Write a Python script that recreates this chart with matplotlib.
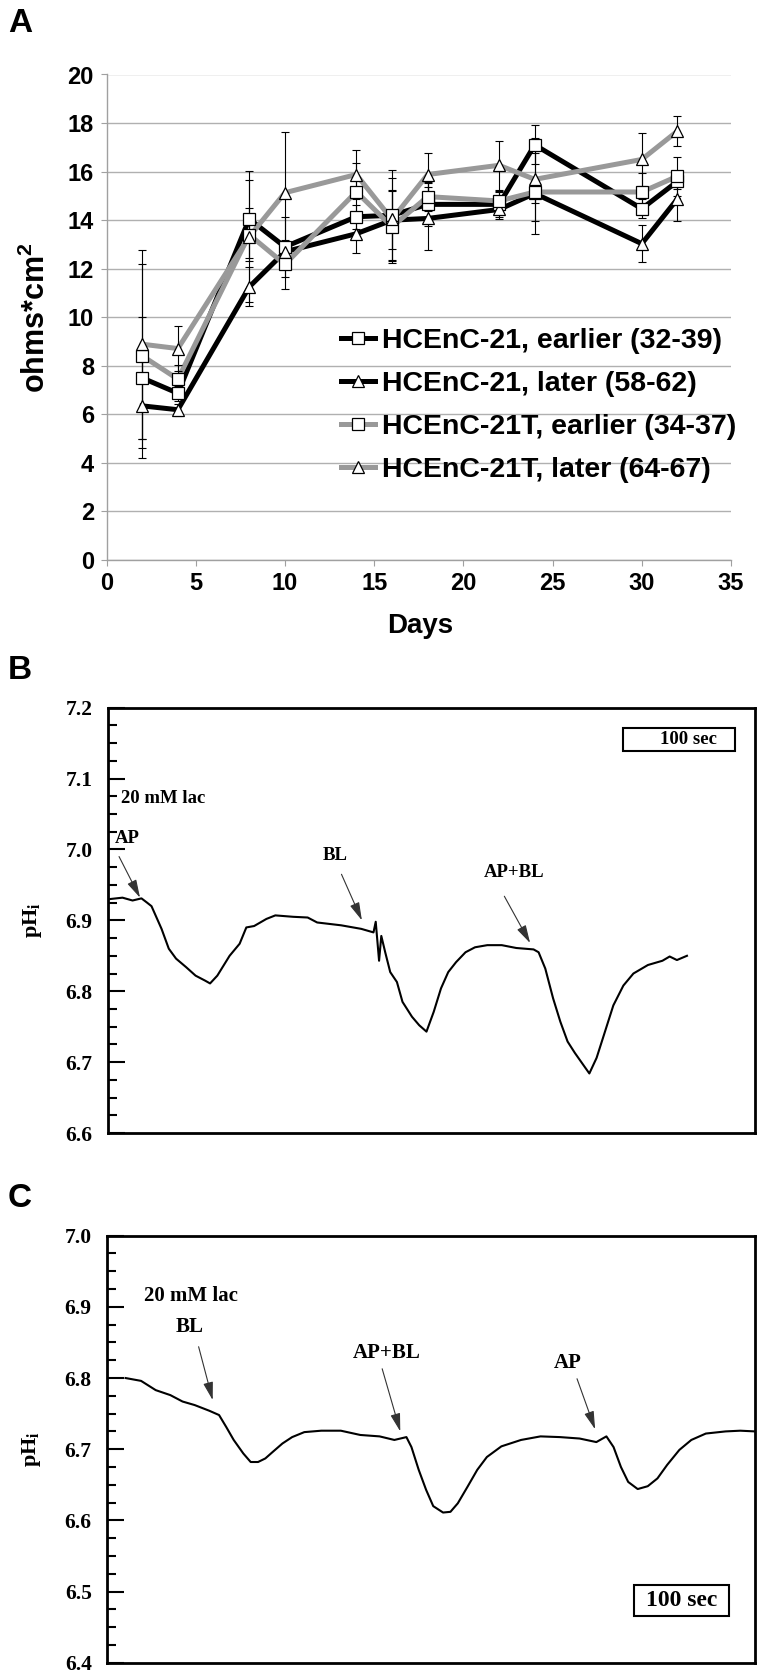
import numpy as np
import matplotlib.pyplot as plt
from matplotlib.lines import Line2D
from matplotlib.patches import Rectangle

plt.rcParams['font.family'] = ['Liberation Sans', 'DejaVu Sans']
plt.rcParams['mathtext.fontset'] = 'custom'
plt.rcParams['mathtext.sf'] = 'Liberation Sans:bold'
plt.rcParams['mathtext.bf'] = 'Liberation Serif:bold'
SERIF = ['Liberation Serif', 'DejaVu Serif']

# ---- panel A: resistance over days ----
days = [2, 4, 8, 10, 14, 16, 18, 22, 24, 30, 32]
labels_a = ['HCEnC-21, earlier (32-39)', 'HCEnC-21, later (58-62)',
            'HCEnC-21T, earlier (34-37)', 'HCEnC-21T, later (64-67)']
early21 = [7.5, 6.87, 14.05, 12.9, 14.14, 14.2, 14.65, 14.65, 17.1, 14.47, 15.6]
early21_err = [2.53, 0.3, 1.6, 1.25, 0.5, 1.85, 0.9, 0.5, 0.8, 0.4, 0.3]
late21 = [6.35, 6.19, 11.25, 12.7, 13.44, 14.0, 14.07, 14.44, 15.1, 13.03, 14.88]
late21_err = [2.16, 0.25, 0.8, 0.4, 0.8, 1.2, 1.3, 0.4, 1.65, 0.75, 0.9]
early21t = [8.41, 7.45, 13.4, 12.18, 15.17, 13.73, 14.97, 14.79, 15.16, 15.16, 15.81]
early21t_err = [3.8, 0.6, 1.1, 1.0, 1.2, 1.5, 0.6, 0.4, 0.45, 0.8, 0.8]
late21t = [8.89, 8.71, 13.32, 15.13, 15.88, 14.03, 15.88, 16.26, 15.68, 16.5, 17.67]
late21t_err = [3.9, 0.93, 2.7, 2.5, 1.0, 1.7, 0.9, 1.0, 1.7, 1.1, 0.6]

# ---- panel B: pHi trace (time in s) ----
b_t = [1.5, 13, 22, 30, 35, 39, 48, 54.5, 61, 70, 78.5, 87, 91.5, 98, 109, 118, 124, 131,
       142, 150, 166, 179, 187.5, 209, 227, 238, 240, 243, 245, 248.5, 253, 259, 264,
       272.5, 279, 285.5, 292, 298.5, 305, 312, 320.5, 329, 340, 353, 366, 381.5, 386,
       392, 399, 405.5, 412, 418.5, 427, 431.5, 438, 444.5, 453, 462, 471, 484, 497,
       503.5, 510, 519]
b_ph = [6.930, 6.932, 6.928, 6.931, 6.925, 6.92, 6.888, 6.86, 6.846, 6.834, 6.822, 6.815,
        6.811, 6.822, 6.85, 6.867, 6.89, 6.892, 6.902, 6.907, 6.905, 6.904, 6.897, 6.893,
        6.888, 6.883, 6.898, 6.843, 6.878, 6.855, 6.827, 6.813, 6.785, 6.764, 6.752,
        6.743, 6.771, 6.804, 6.827, 6.841, 6.855, 6.862, 6.865, 6.865, 6.861, 6.859,
        6.855, 6.832, 6.79, 6.757, 6.729, 6.713, 6.694, 6.684, 6.706, 6.738, 6.78,
        6.808, 6.825, 6.837, 6.843, 6.849, 6.844, 6.85]

# ---- panel C: pHi trace (time in s) ----
c_t = [16.6, 30.5, 43.6, 56.7, 67.6, 78.5, 91.6, 100.3, 106.8, 113.4, 122, 128.6, 135.2,
       141.7, 148.2, 157, 165.7, 176.6, 191.8, 209.3, 226.7, 244, 257.2, 268, 272.5, 279,
       285.6, 292, 300.8, 307.4, 314, 322.6, 331.4, 340, 353, 370.6, 388, 405.5, 423,
       438, 447, 453.4, 460, 466.5, 475, 484, 492.7, 501.4, 512.3, 523, 536, 553.7,
       566.8, 580]
c_ph = [6.80, 6.796, 6.783, 6.776, 6.767, 6.762, 6.754, 6.748, 6.731, 6.713, 6.694, 6.682,
        6.682, 6.687, 6.696, 6.708, 6.717, 6.724, 6.726, 6.726, 6.720, 6.718, 6.713,
        6.717, 6.703, 6.671, 6.643, 6.620, 6.611, 6.612, 6.624, 6.647, 6.671, 6.689,
        6.704, 6.713, 6.718, 6.717, 6.715, 6.710, 6.718, 6.703, 6.675, 6.654, 6.644,
        6.648, 6.659, 6.678, 6.699, 6.713, 6.722, 6.725, 6.726, 6.725]

# annotations: text, text pos, alignment, arrow start, arrow tip
b_notes = [('AP', (6.3, 7.016), 'left', (9.9, 6.990), (28.7, 6.932)),
           ('BL', (204, 6.991), 'center', (209.3, 6.965), (227.6, 6.900)),
           ('AP+BL', (364, 6.968), 'center', (355.3, 6.934), (378.4, 6.868))]
c_notes = [('BL', (73.7, 6.872), 'center', (82, 6.844), (94.6, 6.769)),
           ('AP+BL', (250.7, 6.835), 'center', (246.3, 6.813), (262.5, 6.725)),
           ('AP', (412, 6.821), 'center', (420.7, 6.799), (436.9, 6.728))]

fig = plt.figure(figsize=(7.65, 16.8), dpi=100)
W, H = 765.0, 1680.0

# ================= A =================
axA = fig.add_axes([106.5 / W, 1 - 560 / H, 624.5 / W, 485.5 / H])
gray = '#999999'
series = [(early21, early21_err, 'black', 's'),
          (late21, late21_err, 'black', '^'),
          (early21t, early21t_err, gray, 's'),
          (late21t, late21t_err, gray, '^')]
handles = []
for vals, err, col, mk in series:
    axA.errorbar(days, vals, yerr=err, fmt='none', ecolor='black', elinewidth=0.8,
                 capsize=3, capthick=0.8, zorder=4)
    axA.plot(days, vals, color=col, lw=3.6, zorder=3, solid_joinstyle='miter')
    axA.plot(days, vals, ls='none', marker=mk, ms=9, mfc='white', mec='black',
             mew=0.9, zorder=5)
    handles.append(Line2D([], [], color=col, lw=3.6, marker=mk, ms=9, mfc='white',
                          mec='black', mew=0.9))

axA.set_xlim(0, 35)
axA.set_ylim(0, 20)
axA.set_xticks(range(0, 36, 5))
axA.set_yticks(range(0, 21, 2))
axA.yaxis.grid(True, color='#b0b0b0', lw=1.0)
axA.set_axisbelow(True)
for s in ['top', 'right']:
    axA.spines[s].set_visible(False)
for s in ['left', 'bottom']:
    axA.spines[s].set_color('#a0a0a0')
    axA.spines[s].set_linewidth(1.0)
axA.tick_params(colors='#a0a0a0', length=4, pad=5, labelsize=17, labelcolor='black')
for t in axA.get_xticklabels() + axA.get_yticklabels():
    t.set_fontweight('bold')
axA.set_xlabel('Days', fontsize=20, fontweight='bold')
axA.xaxis.set_label_coords(0.502, -0.109)
axA.set_ylabel(r'ohms*cm$^{\mathsf{2}}$', fontsize=22, fontweight='bold')
axA.yaxis.set_label_coords(-0.087, 0.5)
axA.legend(handles, labels_a, loc='upper left', bbox_to_anchor=(0.375, 0.478),
           frameon=False, prop=dict(weight='bold', size=20.5), handlelength=1.2,
           handletextpad=0.25, labelspacing=0.6, borderpad=0, borderaxespad=0)


def trace_panel(rect, t, ph, ylo, yhi, notes, lac_pos, box, box_txt, fs, box_fs):
    ax = fig.add_axes(rect)
    ax.plot(t, ph, color='black', lw=1.5)
    ax.set_xlim(0, 580)
    ax.set_ylim(ylo, yhi)
    major = np.round(np.arange(ylo, yhi + 0.001, 0.1), 1)
    ax.set_yticks(major, labels=['%.1f' % v for v in major], fontfamily=SERIF,
                  fontweight='bold', fontsize=15.5)
    ax.set_yticks(np.arange(ylo, yhi + 0.001, 0.025), minor=True)
    ax.tick_params(axis='y', which='major', direction='in', length=12.5, width=1.5, pad=11)
    ax.tick_params(axis='y', which='minor', direction='in', length=6.5, width=1.5)
    ax.set_xticks([])
    for s in ax.spines.values():
        s.set_linewidth(2)
    ax.set_ylabel(r'pH$_\mathbf{i}$', fontfamily=SERIF, fontweight='bold', fontsize=16)
    ax.yaxis.set_label_coords(-0.099, 0.5)
    ax.text(lac_pos[0], lac_pos[1], '20 mM lac', fontfamily=SERIF, fontweight='bold',
            fontsize=fs, ha='left', va='center')
    for txt, tp, ha, a0, a1 in notes:
        ax.text(tp[0], tp[1], txt, fontfamily=SERIF, fontweight='bold', fontsize=fs,
                ha=ha, va='center')
        ax.annotate('', xy=a1, xytext=a0,
                    arrowprops=dict(arrowstyle='-|>,head_length=0.55,head_width=0.15',
                                    color='0.2', lw=0.8, shrinkA=0, shrinkB=0,
                                    mutation_scale=20))
    x0, y0, x1, y1 = box
    ax.add_patch(Rectangle((x0, y0), x1 - x0, y1 - y0, fill=False, lw=1.5, color='black'))
    ax.text(box_txt, (y0 + y1) / 2, '100 sec', fontfamily=SERIF, fontweight='bold',
            fontsize=box_fs, ha='center', va='center')
    return ax


# ================= B =================
trace_panel([108 / W, 1 - 1133 / H, 647 / W, 425.3 / H], b_t, b_ph, 6.6, 7.2, b_notes,
            (12, 7.072), (461.7, 7.139, 562, 7.172), 520, 13.5, 13.5)
# ================= C =================
trace_panel([107 / W, 1 - 1662.7 / H, 648 / W, 427 / H], c_t, c_ph, 6.4, 7.0, c_notes,
            (32.7, 6.915), (471.7, 6.4655, 556.7, 6.509), 514, 15, 17)

# panel letters
for letter, ytop in [('A', 8), ('B', 655), ('C', 1183)]:
    fig.text(8 / W, 1 - ytop / H, letter, fontsize=24, fontweight='bold', va='top', ha='left')

fig.savefig('out.png', dpi=100)
